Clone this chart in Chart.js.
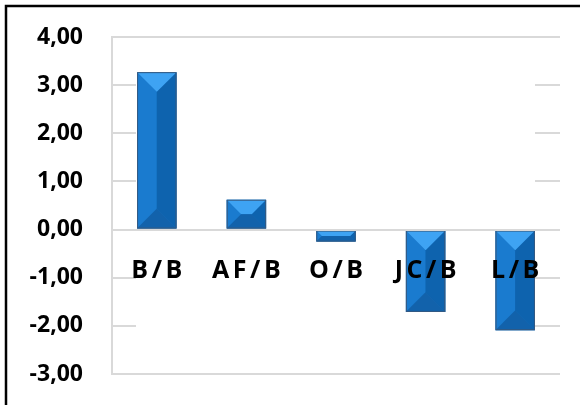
<!DOCTYPE html>
<html>
<head>
<meta charset="utf-8">
<script src="https://cdn.jsdelivr.net/npm/chart.js@4.4.0/dist/chart.umd.min.js"></script>
<style>
  html, body { margin: 0; padding: 0; background: #fff; }
  #box { position: relative; width: 580px; height: 405px; }
</style>
</head>
<body>
<div id="box"><canvas id="chart" width="580" height="405"></canvas></div>
<script>
// values
const categories = ['B/B', 'AF/B', 'O/B', 'JC/B', 'L/B'];
const values = [3.27, 0.62, -0.25, -1.71, -2.09];
const yTicks = [4, 3, 2, 1, 0, -1, -2, -3];
const fullGridValues = [4, 0, -3];

const GRID = '#d9d9d9';
const FONT = 'Open Sans';

// black frame round the chart (runs off the right and bottom edges)
const framePlugin = {
  id: 'frame',
  afterDraw(chart) {
    const ctx = chart.ctx;
    ctx.save();
    ctx.strokeStyle = '#000';
    ctx.lineWidth = 2.5;
    ctx.beginPath();
    ctx.moveTo(6, chart.height + 2);
    ctx.lineTo(6, 6);
    ctx.lineTo(chart.width + 2, 6);
    ctx.stroke();
    ctx.restore();
  }
};

// short stubs of the hidden grid lines at both ends of the plot
const stubPlugin = {
  id: 'stubs',
  beforeDatasetsDraw(chart) {
    const ctx = chart.ctx, a = chart.chartArea, y = chart.scales.y;
    ctx.save();
    ctx.strokeStyle = GRID;
    ctx.lineWidth = 2;
    yTicks.filter(v => !fullGridValues.includes(v)).forEach(v => {
      const py = Math.round(y.getPixelForValue(v));
      ctx.beginPath();
      ctx.moveTo(a.left, py); ctx.lineTo(a.left + 24, py);
      ctx.moveTo(a.right - 25, py); ctx.lineTo(a.right, py);
      ctx.stroke();
    });
    ctx.restore();
  }
};

// bevelled look of the bars
const bevelPlugin = {
  id: 'bevel',
  afterDatasetsDraw(chart) {
    const ctx = chart.ctx;
    const face = (pts, col) => {
      ctx.beginPath();
      ctx.moveTo(pts[0][0], pts[0][1]);
      pts.slice(1).forEach(p => ctx.lineTo(p[0], p[1]));
      ctx.closePath();
      ctx.fillStyle = col;
      ctx.fill();
    };
    ctx.save();
    chart.getDatasetMeta(0).data.forEach(bar => {
      const p = bar.getProps(['x', 'y', 'base', 'width'], true);
      const l = p.x - p.width / 2, r = p.x + p.width / 2;
      const t = Math.min(p.y, p.base), b = Math.max(p.y, p.base);
      const d = Math.min(r - l, b - t) / 2;
      face([[l, t], [l + d, t + d], [l + d, b - d], [l, b]], '#1a7bcf');
      face([[r, t], [r - d, t + d], [r - d, b - d], [r, b]], '#0e63ae');
      face([[l + d, t + d], [r - d, t + d], [r - d, b - d], [l + d, b - d]], '#1570c0');
      face([[l, t], [r, t], [r - d, t + d], [l + d, t + d]], '#3ea3f3');
      face([[l, b], [r, b], [r - d, b - d], [l + d, b - d]], '#1262ab');
      ctx.strokeStyle = '#36597f';
      ctx.lineWidth = 1;
      ctx.strokeRect(l + 0.5, t + 0.5, r - l - 1, b - t - 1);
    });
    // zero line sits over the bars
    const a = chart.chartArea;
    const y0 = Math.round(chart.scales.y.getPixelForValue(0));
    ctx.strokeStyle = GRID;
    ctx.lineWidth = 2;
    ctx.beginPath();
    ctx.moveTo(a.left, y0); ctx.lineTo(a.right, y0);
    ctx.stroke();
    ctx.restore();
  }
};

// category labels sit just under the zero line, letter spaced
const labelPlugin = {
  id: 'catLabels',
  afterDraw(chart) {
    const ctx = chart.ctx, x = chart.scales.x, y = chart.scales.y;
    const spacing = 3.5;
    const base = y.getPixelForValue(0) + 48;
    ctx.save();
    ctx.font = 'bold 25px "' + FONT + '"';
    ctx.fillStyle = '#000';
    ctx.textBaseline = 'alphabetic';
    ctx.textAlign = 'left';
    categories.forEach((c, i) => {
      const chars = c.split('');
      const widths = chars.map(ch => ctx.measureText(ch).width);
      const total = widths.reduce((s, w) => s + w, 0) + spacing * (chars.length - 1);
      let px = x.getPixelForValue(i) - total / 2;
      chars.forEach((ch, k) => {
        ctx.fillText(ch, px, base);
        px += widths[k] + spacing;
      });
    });
    ctx.restore();
  }
};

new Chart(document.getElementById('chart'), {
  type: 'bar',
  data: {
    labels: categories,
    datasets: [{
      data: values,
      backgroundColor: '#1570c0',
      borderWidth: 0,
      categoryPercentage: 1,
      barPercentage: 0.44
    }]
  },
  options: {
    responsive: false,
    animation: false,
    devicePixelRatio: 1,
    layout: { padding: { left: 12, top: 37, right: 20, bottom: 31 } },
    plugins: {
      legend: { display: false },
      tooltip: { enabled: false }
    },
    scales: {
      x: { display: false },
      y: {
        min: -3,
        max: 4,
        afterBuildTicks: s => { s.ticks = yTicks.map(v => ({ value: v })); },
        afterFit: s => { s.width = 100; s.paddingTop = 0; s.paddingBottom = 0; },
        ticks: {
          padding: 29,
          color: '#000',
          font: { family: FONT, weight: 'bold', size: 23 },
          callback: v => v.toFixed(2).replace('.', ',')
        },
        grid: {
          drawTicks: false,
          lineWidth: 2,
          color: c => (c.tick && fullGridValues.includes(c.tick.value)) ? GRID : 'rgba(0,0,0,0)'
        },
        border: { display: true, color: GRID, width: 2 }
      }
    }
  },
  plugins: [stubPlugin, bevelPlugin, labelPlugin, framePlugin]
});
</script>
</body>
</html>
